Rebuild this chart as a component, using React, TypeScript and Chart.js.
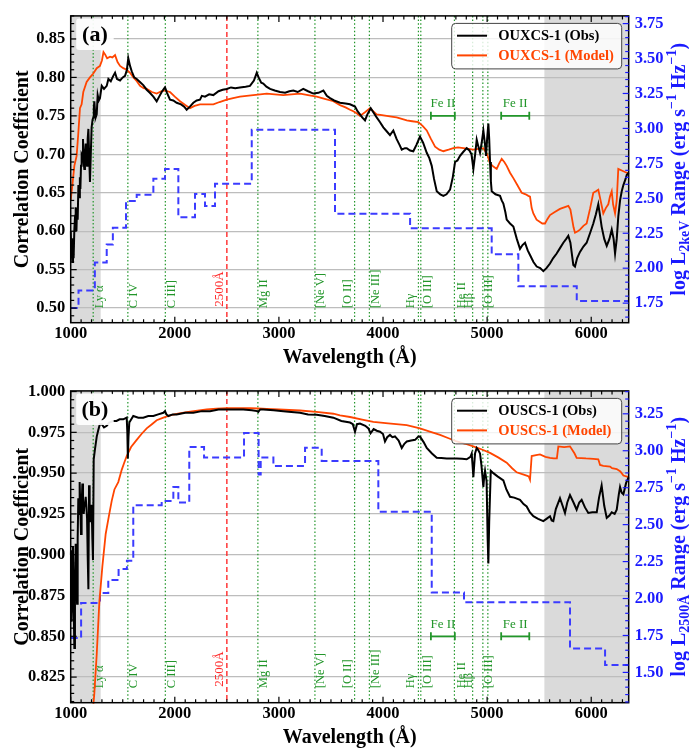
import React, { useEffect, useRef } from "react";
import { Chart, registerables } from "chart.js";
Chart.register(...registerables);

const SERIF = '"Liberation Serif", "Times New Roman", Times, serif';
const SHADE = "#dadada";
const GRID = "#bdbdbd";
const BLUE = "#1a1aff";
const BLUE_LINE = "#3b3bff";
const ORANGE = "#ff4500";
const GREEN = "#22962a";
const RED = "#ff2a2a";

// ---------- shared annotation data ----------
const lineWaves = [1216, 1549, 1909, 2798, 3346, 3727, 3869, 4340, 4363, 4686, 4861, 4959, 5007];
const lineNames = ["Ly α", "C IV", "C III]", "Mg II", "[Ne V]", "[O II]", "[Ne III]", "Hγ", "[O III]", "He II", "Hβ", "[O III]", ""];
const refWave = 2500;
const refName = "2500Å";
const feiiStart = [4460, 5135];
const feiiEnd = [4690, 5405];
const shadeStart = [1000, 5550];
const shadeEnd = [1288, 6360];
const xTickLabels = [1000, 2000, 3000, 4000, 5000, 6000];

// label offsets (style only, px from the line to the text baseline)
const labelDx = [9.5, 9.5, 10, 9.5, 9.5, -4, 9.5, -4.5, 10.5, 10.5, -0.5, 9.5, 0];

// ---------- panel (a) data ----------
const obsA: [number, number][] = [
  [1000, 0.6], [1003, 0.585], [1010, 0.57], [1016, 0.56], [1022, 0.59], [1028, 0.565], [1035, 0.602], [1042, 0.62],
  [1048, 0.631], [1055, 0.6], [1061, 0.63], [1067, 0.615], [1074, 0.66], [1080, 0.644], [1088, 0.67], [1093, 0.655],
  [1099, 0.685], [1105, 0.7], [1112, 0.698], [1118, 0.72], [1124, 0.69], [1131, 0.681], [1137, 0.7], [1144, 0.714],
  [1150, 0.695], [1157, 0.685], [1163, 0.72], [1170, 0.733], [1177, 0.7], [1185, 0.664], [1193, 0.7], [1201, 0.735],
  [1210, 0.745], [1217, 0.748], [1222, 0.76], [1227, 0.769], [1234, 0.755], [1240, 0.748], [1250, 0.752], [1259, 0.777],
  [1270, 0.77], [1281, 0.773], [1298, 0.789], [1320, 0.785], [1346, 0.789], [1362, 0.798], [1385, 0.795], [1409, 0.802],
  [1426, 0.806], [1445, 0.798], [1474, 0.796], [1500, 0.8], [1522, 0.802], [1540, 0.81], [1553, 0.825], [1570, 0.815],
  [1586, 0.808], [1610, 0.8], [1634, 0.798], [1665, 0.794], [1697, 0.79], [1730, 0.784], [1760, 0.78], [1794, 0.775],
  [1826, 0.769], [1850, 0.775], [1874, 0.781], [1895, 0.785], [1906, 0.787], [1925, 0.78], [1954, 0.771], [1985, 0.77],
  [2018, 0.767], [2060, 0.765], [2090, 0.762], [2114, 0.758], [2145, 0.762], [2178, 0.767], [2210, 0.77], [2242, 0.771],
  [2260, 0.776], [2290, 0.775], [2330, 0.778], [2370, 0.777], [2420, 0.782], [2460, 0.784], [2499, 0.785], [2540, 0.787],
  [2580, 0.786], [2626, 0.787], [2680, 0.788], [2722, 0.789], [2760, 0.796], [2787, 0.806], [2805, 0.8], [2830, 0.793],
  [2850, 0.792], [2880, 0.788], [2915, 0.785], [2960, 0.783], [3011, 0.781], [3060, 0.78], [3100, 0.782], [3139, 0.783],
  [3180, 0.781], [3234, 0.785], [3280, 0.782], [3330, 0.779], [3380, 0.78], [3427, 0.783], [3460, 0.776], [3491, 0.773],
  [3530, 0.77], [3587, 0.767], [3640, 0.766], [3683, 0.765], [3731, 0.762], [3755, 0.756], [3779, 0.752], [3800, 0.748],
  [3827, 0.744], [3850, 0.752], [3882, 0.76], [3910, 0.754], [3939, 0.748], [3970, 0.742], [4003, 0.735], [4035, 0.73],
  [4067, 0.725], [4099, 0.731], [4130, 0.72], [4160, 0.712], [4180, 0.706], [4210, 0.708], [4228, 0.708], [4260, 0.705],
  [4291, 0.704], [4320, 0.712], [4355, 0.723], [4385, 0.715], [4420, 0.702], [4445, 0.695], [4468, 0.685], [4490, 0.668],
  [4516, 0.652], [4550, 0.648], [4580, 0.646], [4610, 0.648], [4644, 0.654], [4670, 0.67], [4692, 0.69], [4715, 0.692],
  [4740, 0.698], [4770, 0.703], [4804, 0.708], [4830, 0.705], [4850, 0.7], [4868, 0.681], [4885, 0.7], [4900, 0.719],
  [4916, 0.71], [4932, 0.702], [4948, 0.715], [4964, 0.731], [4978, 0.715], [4990, 0.698], [5000, 0.72], [5012, 0.74],
  [5020, 0.72], [5028, 0.69], [5036, 0.665], [5044, 0.652], [5080, 0.648], [5124, 0.646], [5140, 0.64], [5156, 0.636],
  [5175, 0.625], [5188, 0.615], [5220, 0.61], [5252, 0.606], [5285, 0.59], [5316, 0.577], [5340, 0.582], [5364, 0.585],
  [5390, 0.575], [5412, 0.569], [5445, 0.56], [5476, 0.554], [5510, 0.552], [5540, 0.548], [5570, 0.552], [5604, 0.558],
  [5635, 0.565], [5668, 0.571], [5700, 0.578], [5732, 0.585], [5760, 0.59], [5780, 0.594], [5800, 0.585], [5828, 0.556],
  [5844, 0.554], [5865, 0.565], [5892, 0.573], [5925, 0.58], [5956, 0.585], [5990, 0.598], [6020, 0.61], [6045, 0.622],
  [6068, 0.635], [6085, 0.62], [6100, 0.606], [6125, 0.59], [6149, 0.581], [6175, 0.59], [6197, 0.602], [6215, 0.59],
  [6229, 0.571], [6245, 0.59], [6260, 0.619], [6277, 0.64], [6293, 0.652], [6309, 0.66], [6330, 0.668], [6341, 0.673],
  [6360, 0.676],
];

const modA: [number, number][] = [
  [1000, 0.64], [1003, 0.644], [1016, 0.66], [1035, 0.685], [1057, 0.698], [1073, 0.727], [1089, 0.76], [1105, 0.765],
  [1121, 0.781], [1153, 0.794], [1185, 0.8], [1217, 0.805], [1250, 0.812], [1281, 0.815], [1300, 0.822], [1315, 0.833],
  [1330, 0.83], [1350, 0.825], [1378, 0.827], [1400, 0.826], [1426, 0.829], [1450, 0.82], [1474, 0.815], [1505, 0.812],
  [1538, 0.81], [1570, 0.806], [1602, 0.8], [1635, 0.795], [1666, 0.789], [1700, 0.786], [1730, 0.785], [1780, 0.781],
  [1826, 0.779], [1870, 0.782], [1906, 0.783], [1930, 0.782], [1954, 0.781], [2000, 0.775], [2050, 0.769], [2100, 0.764],
  [2146, 0.76], [2190, 0.763], [2242, 0.765], [2300, 0.765], [2370, 0.765], [2430, 0.768], [2499, 0.771], [2560, 0.773],
  [2626, 0.775], [2690, 0.776], [2754, 0.777], [2820, 0.778], [2883, 0.779], [2960, 0.778], [3042, 0.777], [3120, 0.778],
  [3203, 0.779], [3280, 0.777], [3363, 0.775], [3440, 0.772], [3523, 0.769], [3587, 0.764], [3640, 0.761], [3683, 0.758],
  [3715, 0.756], [3750, 0.753], [3779, 0.75], [3830, 0.755], [3875, 0.76], [3905, 0.756], [3939, 0.752], [3990, 0.751],
  [4035, 0.75], [4080, 0.749], [4131, 0.748], [4180, 0.746], [4228, 0.744], [4280, 0.743], [4339, 0.742], [4380, 0.737],
  [4420, 0.731], [4460, 0.72], [4500, 0.71], [4540, 0.706], [4580, 0.704], [4630, 0.706], [4676, 0.708], [4720, 0.709],
  [4772, 0.708], [4820, 0.707], [4868, 0.706], [4916, 0.707], [4964, 0.708], [5000, 0.7], [5028, 0.688], [5060, 0.684],
  [5092, 0.681], [5115, 0.688], [5140, 0.694], [5165, 0.69], [5188, 0.685], [5220, 0.676], [5252, 0.669], [5290, 0.66],
  [5332, 0.65], [5370, 0.648], [5396, 0.646], [5412, 0.645], [5428, 0.63], [5444, 0.623], [5475, 0.615], [5508, 0.612],
  [5530, 0.61], [5556, 0.61], [5580, 0.616], [5604, 0.621], [5650, 0.625], [5700, 0.629], [5740, 0.631], [5780, 0.633],
  [5800, 0.628], [5812, 0.619], [5830, 0.605], [5844, 0.598], [5870, 0.6], [5892, 0.602], [5925, 0.607], [5956, 0.61],
  [5990, 0.63], [6020, 0.65], [6045, 0.652], [6068, 0.654], [6090, 0.64], [6116, 0.623], [6140, 0.63], [6164, 0.635],
  [6180, 0.645], [6197, 0.652], [6210, 0.635], [6229, 0.623], [6245, 0.64], [6260, 0.681], [6293, 0.679], [6325, 0.677],
  [6360, 0.675],
];

const lumA: [number, number][] = [
  [1000, 1.715], [1075, 1.84], [1232, 2.04], [1346, 2.17], [1405, 2.29], [1531, 2.48], [1634, 2.525], [1794, 2.64],
  [1906, 2.71], [2034, 2.365], [2194, 2.53], [2290, 2.445], [2386, 2.605], [2739, 2.99], [3539, 2.39], [4260, 2.285],
  [5044, 2.1], [5300, 1.87], [5861, 1.765], [6360, 1.765],
];

// ---------- panel (b) data ----------
const obsB: [number, number][] = [
  [1000, 0.9], [1003, 0.9027], [1006, 0.88], [1010, 0.8589], [1016, 0.89], [1022, 0.9047], [1028, 0.87], [1035, 0.8429],
  [1041, 0.88], [1048, 0.9067], [1055, 0.89], [1061, 0.87], [1067, 0.91], [1073, 0.9346], [1080, 0.925], [1086, 0.9445],
  [1092, 0.93], [1099, 0.9127], [1105, 0.93], [1112, 0.9436], [1118, 0.935], [1125, 0.925], [1131, 0.93], [1137, 0.9306],
  [1144, 0.9355], [1150, 0.93], [1157, 0.9226], [1163, 0.9], [1170, 0.8788], [1176, 0.9425], [1182, 0.93], [1189, 0.92],
  [1195, 0.925], [1201, 0.9306], [1208, 0.91], [1214, 0.8967], [1221, 0.9585], [1233, 0.9645], [1250, 0.9724], [1265, 0.9764],
  [1280, 0.98], [1298, 0.98], [1320, 0.978], [1346, 0.979], [1370, 0.981], [1409, 0.982], [1440, 0.982], [1470, 0.983],
  [1505, 0.983], [1538, 0.984], [1544, 0.975], [1549, 0.959], [1555, 0.972], [1563, 0.981], [1601, 0.985], [1650, 0.984],
  [1697, 0.984], [1745, 0.985], [1794, 0.985], [1840, 0.986], [1890, 0.987], [1906, 0.988], [1920, 0.986], [1938, 0.985],
  [1980, 0.986], [2018, 0.986], [2100, 0.987], [2178, 0.987], [2260, 0.988], [2338, 0.988], [2420, 0.989], [2499, 0.989],
  [2580, 0.989], [2658, 0.989], [2740, 0.9885], [2790, 0.988], [2802, 0.9875], [2820, 0.989], [2850, 0.989], [2950, 0.9885],
  [3042, 0.988], [3120, 0.9875], [3203, 0.987], [3280, 0.986], [3363, 0.9858], [3440, 0.985], [3523, 0.984], [3600, 0.982],
  [3683, 0.981], [3710, 0.98], [3731, 0.9754], [3750, 0.98], [3779, 0.9804], [3830, 0.979], [3860, 0.9774], [3880, 0.9744],
  [3910, 0.977], [3940, 0.976], [3971, 0.9754], [4000, 0.974], [4019, 0.9694], [4040, 0.972], [4067, 0.9734], [4090, 0.972],
  [4115, 0.9725], [4150, 0.97], [4180, 0.9654], [4205, 0.968], [4228, 0.9694], [4270, 0.97], [4308, 0.9704], [4340, 0.9724],
  [4355, 0.9724], [4390, 0.969], [4420, 0.9654], [4470, 0.962], [4516, 0.9594], [4560, 0.9592], [4612, 0.959], [4660, 0.959],
  [4708, 0.959], [4760, 0.9588], [4804, 0.9585], [4840, 0.96], [4852, 0.962], [4860, 0.955], [4868, 0.9475], [4876, 0.955],
  [4884, 0.962], [4900, 0.9654], [4916, 0.964], [4932, 0.962], [4945, 0.955], [4964, 0.9415], [4972, 0.948], [4980, 0.9515],
  [4995, 0.945], [5005, 0.91], [5012, 0.8947], [5020, 0.92], [5035, 0.9515], [5060, 0.95], [5100, 0.948], [5156, 0.9455],
  [5185, 0.94], [5220, 0.9355], [5260, 0.935], [5316, 0.9336], [5350, 0.931], [5380, 0.9296], [5410, 0.926], [5444, 0.9236],
  [5490, 0.922], [5540, 0.9206], [5570, 0.922], [5604, 0.9236], [5620, 0.921], [5636, 0.9206], [5660, 0.928], [5700, 0.9346],
  [5725, 0.93], [5748, 0.9256], [5770, 0.932], [5796, 0.9366], [5830, 0.932], [5860, 0.9276], [5885, 0.932], [5908, 0.9336],
  [5940, 0.929], [5972, 0.9256], [6010, 0.926], [6053, 0.926], [6075, 0.935], [6100, 0.9425], [6125, 0.93], [6149, 0.9226],
  [6175, 0.924], [6197, 0.926], [6225, 0.925], [6245, 0.9276], [6265, 0.937], [6277, 0.9415], [6293, 0.938], [6309, 0.937],
  [6335, 0.944], [6360, 0.9475],
];

const modB: [number, number][] = [
  [1150, 0.76], [1200, 0.795], [1227, 0.815], [1250, 0.839], [1275, 0.8708], [1304, 0.8927], [1336, 0.9127], [1365, 0.923],
  [1394, 0.933], [1420, 0.94], [1457, 0.9445], [1490, 0.952], [1515, 0.9565], [1538, 0.9605], [1580, 0.966], [1634, 0.9704],
  [1680, 0.974], [1730, 0.9774], [1780, 0.98], [1826, 0.9824], [1890, 0.984], [1954, 0.9854], [2030, 0.9865], [2114, 0.9874],
  [2200, 0.9882], [2306, 0.989], [2400, 0.9895], [2499, 0.9898], [2600, 0.9899], [2722, 0.9898], [2800, 0.9896], [2883, 0.9893],
  [3000, 0.989], [3100, 0.9887], [3203, 0.9884], [3360, 0.9875], [3523, 0.9864], [3587, 0.9854], [3683, 0.9844], [3800, 0.9828],
  [3907, 0.9814], [4050, 0.9805], [4228, 0.9794], [4355, 0.9774], [4450, 0.9755], [4548, 0.9734], [4630, 0.9714], [4708, 0.9694],
  [4790, 0.968], [4868, 0.9664], [4950, 0.9645], [5028, 0.9624], [5110, 0.9595], [5188, 0.9564], [5240, 0.953], [5284, 0.9505],
  [5330, 0.9495], [5380, 0.9485], [5400, 0.948], [5412, 0.946], [5420, 0.946], [5428, 0.9605], [5470, 0.961], [5508, 0.9615],
  [5560, 0.96], [5604, 0.9594], [5640, 0.959], [5670, 0.959], [5684, 0.9664], [5740, 0.966], [5796, 0.9664], [5840, 0.962],
  [5860, 0.9594], [5950, 0.959], [6020, 0.9588], [6068, 0.9585], [6085, 0.955], [6116, 0.9545], [6181, 0.954], [6200, 0.953],
  [6245, 0.9525], [6280, 0.951], [6309, 0.9485], [6360, 0.9475],
];

const lumB: [number, number][] = [
  [1000, 1.732], [1100, 1.97], [1281, 2.037], [1361, 2.126], [1460, 2.2], [1540, 2.256], [1601, 2.632], [1874, 2.66],
  [1986, 2.755], [2034, 2.65], [2139, 3.025], [2281, 2.954], [2665, 3.12], [2805, 2.84], [2825, 2.954], [2947, 2.897],
  [3251, 3.02], [3411, 2.93], [3955, 2.587], [4468, 2.04], [4778, 1.975], [5796, 1.662], [6133, 1.55], [6360, 1.55],
];

// ---------- panels ----------
const panelA = {
  height: 375, plotTop: 4.7, xAxisH: 52.3,
  yMin: 0.481, yMax: 0.88, yStep: 0.05, yMinor: 0.01, yDec: 2,
  y2Min: 1.61, y2Max: 3.805, y2Step: 0.25, y2Minor: 0.05,
  feY: 0.75, tag: "(a)", obsName: "OUXCS-1 (Obs)", modName: "OUXCS-1 (Model)", sub: "2keV",
  obs: obsA, mod: modA, lum: lumA,
};
const panelB = {
  height: 376, plotTop: 9.3, xAxisH: 48.3,
  yMin: 0.8093, yMax: 1.0004, yStep: 0.025, yMinor: 0.005, yDec: 3,
  y2Min: 1.295, y2Max: 3.405, y2Step: 0.25, y2Minor: 0.05,
  feY: 0.85, tag: "(b)", obsName: "OUSCS-1 (Obs)", modName: "OUSCS-1 (Model)", sub: "2500Å",
  obs: obsB, mod: modB, lum: lumB,
};

function tickValues(min: number, max: number, minor: number, major: number) {
  const out: { v: number; major: boolean }[] = [];
  const k0 = Math.ceil(min / minor - 1e-9);
  const k1 = Math.floor(max / minor + 1e-9);
  for (let k = k0; k <= k1; k++) {
    const v = k * minor;
    const r = v / major;
    out.push({ v, major: Math.abs(r - Math.round(r)) < 1e-6 });
  }
  return out;
}

function roundRect(ctx: CanvasRenderingContext2D, x: number, y: number, w: number, h: number, r: number) {
  ctx.beginPath();
  ctx.moveTo(x + r, y);
  ctx.lineTo(x + w - r, y);
  ctx.quadraticCurveTo(x + w, y, x + w, y + r);
  ctx.lineTo(x + w, y + h - r);
  ctx.quadraticCurveTo(x + w, y + h, x + w - r, y + h);
  ctx.lineTo(x + r, y + h);
  ctx.quadraticCurveTo(x, y + h, x, y + h - r);
  ctx.lineTo(x, y + r);
  ctx.quadraticCurveTo(x, y, x + r, y);
  ctx.closePath();
}

function makeAnnot(p: any) {
  return {
    id: "annot",
    beforeDraw(chart: any) {
      const { ctx, chartArea: a, scales } = chart;
      const x = scales.x;
      ctx.save();
      ctx.fillStyle = "#ffffff";
      ctx.fillRect(0, 0, chart.width, chart.height);
      ctx.fillStyle = SHADE;
      shadeStart.forEach((s, i) => {
        const x0 = Math.max(a.left, x.getPixelForValue(s));
        const x1 = Math.min(a.right, x.getPixelForValue(shadeEnd[i]));
        ctx.fillRect(x0, a.top, x1 - x0, a.bottom - a.top);
      });
      ctx.restore();
    },
    beforeDatasetsDraw(chart: any) {
      const { ctx, chartArea: a, scales } = chart;
      const x = scales.x;
      const y = scales.y;
      ctx.save();
      // emission lines
      ctx.strokeStyle = GREEN;
      ctx.lineWidth = 1.2;
      ctx.setLineDash([1.5, 2.2]);
      lineWaves.forEach((w) => {
        const px = x.getPixelForValue(w);
        ctx.beginPath();
        ctx.moveTo(px, a.top);
        ctx.lineTo(px, a.bottom);
        ctx.stroke();
      });
      // 2500 line
      ctx.strokeStyle = RED;
      ctx.lineWidth = 1.4;
      ctx.setLineDash([5, 3]);
      const pr = x.getPixelForValue(refWave);
      ctx.beginPath();
      ctx.moveTo(pr, a.top);
      ctx.lineTo(pr, a.bottom);
      ctx.stroke();
      ctx.setLineDash([]);
      // labels
      ctx.font = `12.5px ${SERIF}`;
      ctx.textAlign = "left";
      ctx.textBaseline = "alphabetic";
      lineWaves.forEach((w, i) => {
        if (!lineNames[i]) return;
        const px = x.getPixelForValue(w);
        ctx.save();
        ctx.translate(px + labelDx[i], a.bottom - 14.5);
        ctx.rotate(-Math.PI / 2);
        ctx.fillStyle = GREEN;
        ctx.fillText(lineNames[i], 0, 0);
        ctx.restore();
      });
      ctx.save();
      ctx.font = `13px ${SERIF}`;
      ctx.translate(pr - 3.5, a.bottom - 16);
      ctx.rotate(-Math.PI / 2);
      ctx.fillStyle = RED;
      ctx.fillText(refName, 0, 0);
      ctx.restore();
      // Fe II bars
      const yf = y.getPixelForValue(p.feY);
      feiiStart.forEach((s, i) => {
        const x0 = x.getPixelForValue(s);
        const x1 = x.getPixelForValue(feiiEnd[i]);
        ctx.strokeStyle = GREEN;
        ctx.lineWidth = 1.8;
        ctx.beginPath();
        ctx.moveTo(x0, yf);
        ctx.lineTo(x1, yf);
        ctx.moveTo(x0, yf - 4);
        ctx.lineTo(x0, yf + 4);
        ctx.moveTo(x1, yf - 4);
        ctx.lineTo(x1, yf + 4);
        ctx.stroke();
        ctx.fillStyle = GREEN;
        ctx.font = `13px ${SERIF}`;
        ctx.textAlign = "center";
        ctx.fillText("Fe II", (x0 + x1) / 2, yf - 8.5);
      });
      ctx.restore();
    },
    afterDatasetsDraw(chart: any) {
      const { ctx, chartArea: a, scales } = chart;
      const x = scales.x;
      const y = scales.y;
      const y2 = scales.y2;
      ctx.save();
      ctx.setLineDash([]);
      // frame
      ctx.strokeStyle = "#000";
      ctx.lineWidth = 1.5;
      ctx.strokeRect(a.left, a.top, a.right - a.left, a.bottom - a.top);
      // x ticks (bottom & top)
      ctx.lineWidth = 1.2;
      tickValues(1000, 6360, 100, 1000).forEach((t) => {
        const px = x.getPixelForValue(t.v);
        const len = t.major ? 6 : 3.5;
        ctx.beginPath();
        ctx.moveTo(px, a.bottom);
        ctx.lineTo(px, a.bottom - len);
        ctx.moveTo(px, a.top);
        ctx.lineTo(px, a.top + len);
        ctx.stroke();
      });
      tickValues(p.yMin, p.yMax, p.yMinor, p.yStep).forEach((t) => {
        const py = y.getPixelForValue(t.v);
        const len = t.major ? 6 : 3.5;
        ctx.beginPath();
        ctx.moveTo(a.left, py);
        ctx.lineTo(a.left + len, py);
        ctx.stroke();
      });
      ctx.strokeStyle = BLUE;
      tickValues(p.y2Min, p.y2Max, p.y2Minor, p.y2Step).forEach((t) => {
        const py = y2.getPixelForValue(t.v);
        const len = t.major ? 6 : 3.5;
        ctx.beginPath();
        ctx.moveTo(a.right, py);
        ctx.lineTo(a.right - len, py);
        ctx.stroke();
      });
      // legend
      const lx = a.right - 177;
      const ly = a.top + 7.5;
      roundRect(ctx, lx, ly, 170, 45.5, 4);
      ctx.fillStyle = "rgba(255,255,255,0.82)";
      ctx.fill();
      ctx.strokeStyle = "#444";
      ctx.lineWidth = 1;
      ctx.stroke();
      const rows = [
        { name: p.obsName, color: "#000" },
        { name: p.modName, color: ORANGE },
      ];
      rows.forEach((r, i) => {
        const ry = a.top + 19.8 + i * 19.7;
        ctx.strokeStyle = r.color;
        ctx.lineWidth = 2;
        ctx.beginPath();
        ctx.moveTo(a.right - 171.7, ry);
        ctx.lineTo(a.right - 141.7, ry);
        ctx.stroke();
        ctx.fillStyle = r.color;
        ctx.font = `bold 14.5px ${SERIF}`;
        ctx.textAlign = "left";
        ctx.textBaseline = "middle";
        ctx.fillText(r.name, a.right - 130.5, ry + 0.5);
      });
      // panel tag
      roundRect(ctx, a.left + 5.5, a.top + 2.5, 37.5, 31.5, 3);
      ctx.fillStyle = "rgba(255,255,255,0.92)";
      ctx.fill();
      ctx.fillStyle = "#000";
      ctx.font = `bold 22px ${SERIF}`;
      ctx.textAlign = "center";
      ctx.textBaseline = "middle";
      ctx.fillText(p.tag, a.left + 24.2, a.top + 19.5);
      // axis titles
      const cy = (a.top + a.bottom) / 2;
      ctx.textBaseline = "alphabetic";
      ctx.font = `bold 20px ${SERIF}`;
      ctx.fillStyle = "#000";
      ctx.save();
      ctx.translate(27.5, cy);
      ctx.rotate(-Math.PI / 2);
      ctx.textAlign = "center";
      ctx.fillText("Correlation Coefficient", 0, 0);
      ctx.restore();
      ctx.textAlign = "center";
      ctx.fillText("Wavelength (Å)", (a.left + a.right) / 2, a.bottom + 40.3);
      // right rich title
      const big = `bold 20px ${SERIF}`;
      const small = `bold 14px ${SERIF}`;
      const segs = [
        { t: "log L", f: big, dy: 0 },
        { t: p.sub, f: small, dy: 4.5 },
        { t: " Range (erg s", f: big, dy: 0 },
        { t: "−1", f: small, dy: -8.5 },
        { t: " Hz", f: big, dy: 0 },
        { t: "−1", f: small, dy: -8.5 },
        { t: ")", f: big, dy: 0 },
      ];
      let total = 0;
      segs.forEach((s) => {
        ctx.font = s.f;
        total += ctx.measureText(s.t).width;
      });
      ctx.save();
      ctx.translate(684.5, cy);
      ctx.rotate(-Math.PI / 2);
      ctx.fillStyle = BLUE;
      ctx.textAlign = "left";
      let cx = -total / 2;
      segs.forEach((s) => {
        ctx.font = s.f;
        ctx.fillText(s.t, cx, s.dy);
        cx += ctx.measureText(s.t).width;
      });
      ctx.restore();
      ctx.restore();
    },
  };
}

const tickFont = { family: SERIF, size: 16.5, weight: "bold" as const };

function buildConfig(p: any): any {
  const pts = (arr: [number, number][]) => arr.map(([x, y]) => ({ x, y }));
  return {
    type: "line",
    data: {
      datasets: [
        {
          label: "lum",
          data: pts(p.lum),
          yAxisID: "y2",
          borderColor: BLUE_LINE,
          borderWidth: 2,
          borderDash: [7, 4],
          stepped: true,
          pointRadius: 0,
          fill: false,
          order: 3,
          clip: 1,
        },
        {
          label: p.modName,
          data: pts(p.mod),
          yAxisID: "y",
          borderColor: ORANGE,
          borderWidth: 1.8,
          pointRadius: 0,
          fill: false,
          tension: 0,
          order: 2,
          clip: 1,
        },
        {
          label: p.obsName,
          data: pts(p.obs),
          yAxisID: "y",
          borderColor: "#000",
          borderWidth: 2,
          pointRadius: 0,
          fill: false,
          tension: 0,
          order: 1,
          clip: 1,
        },
      ],
    },
    options: {
      responsive: false,
      animation: false,
      devicePixelRatio: 1,
      events: [],
      layout: { padding: { top: p.plotTop, left: 0, right: 0, bottom: 0 } },
      plugins: { legend: { display: false }, tooltip: { enabled: false }, title: { display: false } },
      scales: {
        x: {
          type: "linear",
          position: "bottom",
          min: 1000,
          max: 6360,
          afterFit: (s: any) => {
            s.height = p.xAxisH;
          },
          afterBuildTicks: (s: any) => {
            s.ticks = xTickLabels.map((v) => ({ value: v }));
          },
          ticks: {
            callback: (v: any) => String(v),
            font: tickFont,
            color: "#000",
            padding: 1,
            maxRotation: 0,
            autoSkip: false,
          },
          grid: { display: false, drawTicks: false },
          border: { display: false },
        },
        y: {
          type: "linear",
          position: "left",
          min: p.yMin,
          max: p.yMax,
          afterFit: (s: any) => {
            s.width = 70.7;
          },
          ticks: {
            stepSize: p.yStep,
            includeBounds: false,
            callback: (v: any) => Number(v).toFixed(p.yDec),
            font: tickFont,
            color: "#000",
            padding: 5.5,
          },
          grid: { color: GRID, lineWidth: 1.3, drawTicks: false },
          border: { display: false },
        },
        y2: {
          type: "linear",
          position: "right",
          min: p.y2Min,
          max: p.y2Max,
          afterFit: (s: any) => {
            s.width = 60.3;
          },
          ticks: {
            stepSize: p.y2Step,
            includeBounds: false,
            callback: (v: any) => Number(v).toFixed(2),
            font: tickFont,
            color: BLUE,
            padding: 6,
          },
          grid: { display: false, drawTicks: false },
          border: { display: false },
        },
      },
    },
    plugins: [makeAnnot(p)],
  };
}

function Panel({ spec }: { spec: any }) {
  const ref = useRef<HTMLCanvasElement>(null);
  useEffect(() => {
    const chart = new Chart(ref.current as HTMLCanvasElement, buildConfig(spec));
    return () => chart.destroy();
  }, [spec]);
  return (
    <canvas
      ref={ref}
      width={689}
      height={spec.height}
      style={{ display: "block", width: 689, height: spec.height }}
    />
  );
}

export default function App() {
  return (
    <div style={{ position: "absolute", left: 0, top: 0, width: 689, height: 751, background: "#fff" }}>
      <Panel spec={panelA} />
      <Panel spec={panelB} />
    </div>
  );
}
